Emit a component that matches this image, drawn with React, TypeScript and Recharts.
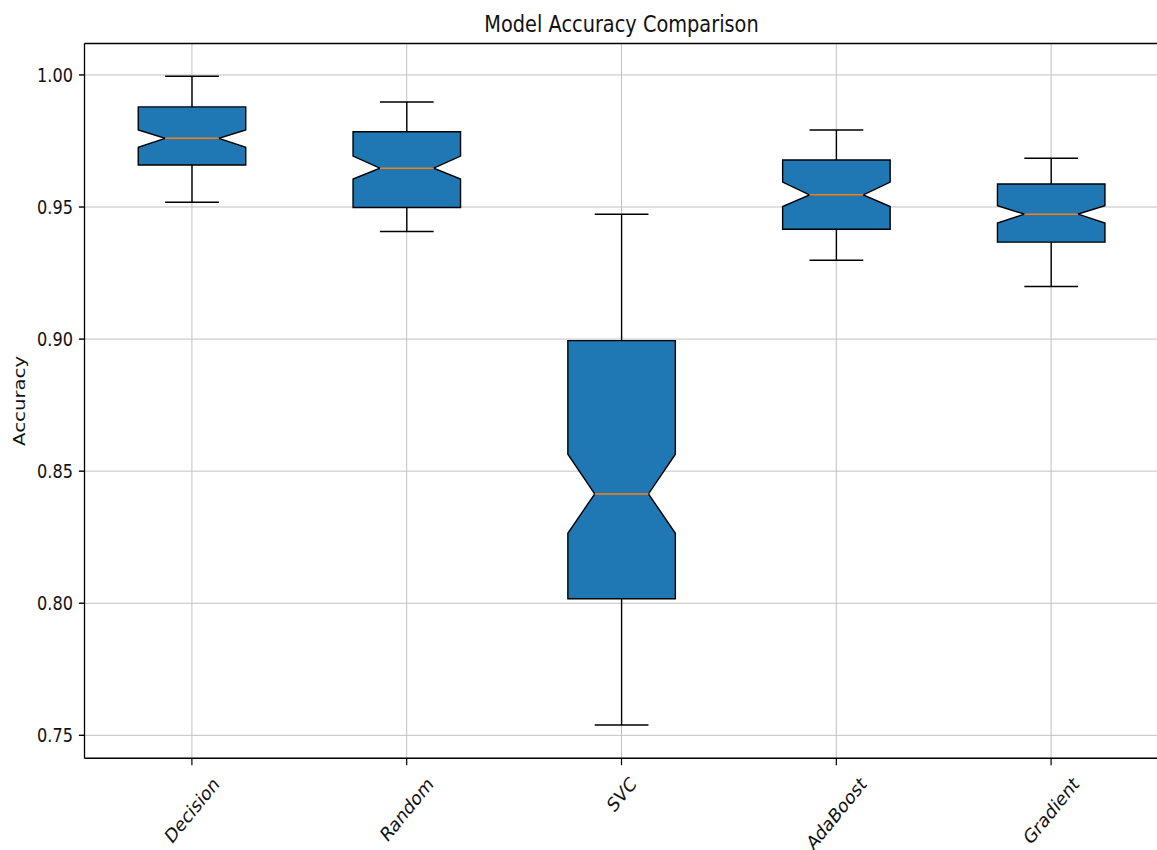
import React from 'react';
import { ComposedChart, Bar, XAxis, YAxis, CartesianGrid, ReferenceLine } from 'recharts';

const categories = ['Decision', 'Random', 'SVC', 'AdaBoost', 'Gradient'];
const whiskerLow = [0.9518, 0.9407, 0.7539, 0.9298, 0.9199];
const q1Values = [0.9659, 0.9498, 0.8017, 0.9416, 0.9367];
const medianValues = [0.9760, 0.9647, 0.8414, 0.9546, 0.9473];
const q3Values = [0.9879, 0.9785, 0.8994, 0.9678, 0.9587];
const whiskerHigh = [0.9995, 0.9898, 0.9473, 0.9792, 0.9685];
const notchLow = [0.9726, 0.9606, 0.8265, 0.9502, 0.9439];
const notchHigh = [0.9792, 0.9693, 0.8564, 0.9594, 0.9505];
const yTicks = [0.75, 0.8, 0.85, 0.9, 0.95, 1.0];

const Y_MIN = 0.7413;
const Y_MAX = 1.0119;

const data = categories.map((name, i) => ({
  name,
  range: [whiskerLow[i], whiskerHigh[i]],
  lo: whiskerLow[i],
  hi: whiskerHigh[i],
  q1: q1Values[i],
  med: medianValues[i],
  q3: q3Values[i],
  nlo: notchLow[i],
  nhi: notchHigh[i],
}));

const SX = 1.16;
const SY = 1.42;
const FONT = '"DejaVu Sans", sans-serif';
const CHART_W = 1160;
const CHART_H = 850;
const PLOT_LEFT = 84.5;
const PLOT_TOP = 43.5;
const PLOT_BOTTOM = 758.3;
const PLOT_RIGHT = 1158.5;

let ctx: CanvasRenderingContext2D | null = null;
function measure(text: string, size: number): number {
  if (!ctx) {
    const c = document.createElement('canvas');
    ctx = c.getContext('2d');
  }
  if (!ctx) return text.length * size * 0.6;
  ctx.font = `${size}px "DejaVu Sans"`;
  return ctx.measureText(text).width;
}

const XTick = (props: any) => {
  const { x, payload } = props;
  const label = String(payload.value);
  const fs = 13.9;
  const w = measure(label, fs);
  const h = fs * 1.17;
  const H = (w + h) * Math.SQRT1_2;
  return (
    <g transform={`translate(${x},${PLOT_BOTTOM + 13.8}) scale(${SX},${SY})`}>
      <text
        x={0}
        y={H / 2}
        transform={`rotate(-45, 0, ${H / 2})`}
        textAnchor="middle"
        dominantBaseline="central"
        fontFamily={FONT}
        fontSize={fs}
        fill="#111"
      >
        {label}
      </text>
    </g>
  );
};

const YTick = (props: any) => {
  const { y, payload } = props;
  return (
    <g transform={`translate(${PLOT_LEFT - 11.5},${y}) scale(${SX},${SY})`}>
      <text x={0} y={0} textAnchor="end" dominantBaseline="central" fontFamily={FONT} fontSize={13.9} fill="#111">
        {Number(payload.value).toFixed(2)}
      </text>
    </g>
  );
};

const BoxShape = (props: any) => {
  const { x, y, width, height, payload } = props;
  if (!payload) return null;
  const top = Math.min(y, y + height);
  const bot = Math.max(y, y + height);
  const { lo, hi, q1, med, q3, nlo, nhi } = payload;
  const py = (v: number) => top + ((hi - v) / (hi - lo)) * (bot - top);
  const cx = x + width / 2;
  const bh = width * 0.25;
  const nh = width * 0.125;
  const ch = width * 0.125;
  const L = cx - bh;
  const R = cx + bh;
  const pts = [
    [L, py(q1)],
    [R, py(q1)],
    [R, py(nlo)],
    [cx + nh, py(med)],
    [R, py(nhi)],
    [R, py(q3)],
    [L, py(q3)],
    [L, py(nhi)],
    [cx - nh, py(med)],
    [L, py(nlo)],
  ]
    .map((p) => `${p[0]},${p[1]}`)
    .join(' ');
  return (
    <g>
      <line x1={cx} x2={cx} y1={py(q1)} y2={py(lo)} stroke="#000" strokeWidth={1.4} />
      <line x1={cx} x2={cx} y1={py(q3)} y2={py(hi)} stroke="#000" strokeWidth={1.4} />
      <line x1={cx - ch} x2={cx + ch} y1={py(lo)} y2={py(lo)} stroke="#000" strokeWidth={1.5} />
      <line x1={cx - ch} x2={cx + ch} y1={py(hi)} y2={py(hi)} stroke="#000" strokeWidth={1.5} />
      <polygon points={pts} fill="#1f77b4" stroke="#000" strokeWidth={1.4} strokeLinejoin="miter" />
      <line x1={cx - nh} x2={cx + nh} y1={py(med)} y2={py(med)} stroke="#ff7f0e" strokeWidth={1.5} />
    </g>
  );
};

export default function App() {
  return (
    <div
      style={{
        position: 'absolute',
        left: 0,
        top: 0,
        width: 1157,
        height: 850,
        overflow: 'hidden',
        background: '#fff',
      }}
    >
      <ComposedChart
        width={CHART_W}
        height={CHART_H}
        data={data}
        margin={{ top: PLOT_TOP, right: CHART_W - PLOT_RIGHT, bottom: 0, left: 0 }}
        barCategoryGap={0}
        barGap={0}
      >
        <CartesianGrid
          stroke="#c2c2c2"
          horizontal={{ strokeWidth: 1.5 } as any}
          vertical={{ strokeWidth: 1.3 } as any}
        />
        <XAxis
          dataKey="name"
          type="category"
          height={CHART_H - PLOT_BOTTOM}
          axisLine={{ stroke: '#000', strokeWidth: 1.5 }}
          tickLine={{ stroke: '#000', strokeWidth: 1.2 }}
          tickSize={6.9}
          tick={<XTick />}
          interval={0}
          padding={{ left: 0, right: 0 }}
        />
        <YAxis
          type="number"
          domain={[Y_MIN, Y_MAX]}
          ticks={yTicks}
          allowDataOverflow
          width={PLOT_LEFT}
          axisLine={{ stroke: '#000', strokeWidth: 1.3 }}
          tickLine={{ stroke: '#000', strokeWidth: 1.4 }}
          tickSize={5.6}
          tick={<YTick />}
        />
        <ReferenceLine y={Y_MAX} stroke="#000" strokeWidth={1.5} ifOverflow="extendDomain" />
        <Bar dataKey="range" shape={<BoxShape />} isAnimationActive={false} />
      </ComposedChart>
      <svg
        width={1157}
        height={850}
        style={{ position: 'absolute', left: 0, top: 0, pointerEvents: 'none' }}
      >
        <g transform={`translate(${(PLOT_LEFT + PLOT_RIGHT) / 2},${31.5}) scale(${SX},${SY})`}>
          <text x={0} y={0} textAnchor="middle" fontFamily={FONT} fontSize={16.67} fill="#111">
            Model Accuracy Comparison
          </text>
        </g>
        <g transform={`translate(${19},${(PLOT_TOP + PLOT_BOTTOM) / 2}) scale(${SX},${SY}) rotate(-90)`}>
          <text x={0} y={0} textAnchor="middle" dominantBaseline="central" fontFamily={FONT} fontSize={13.9} fill="#111">
            Accuracy
          </text>
        </g>
      </svg>
    </div>
  );
}
